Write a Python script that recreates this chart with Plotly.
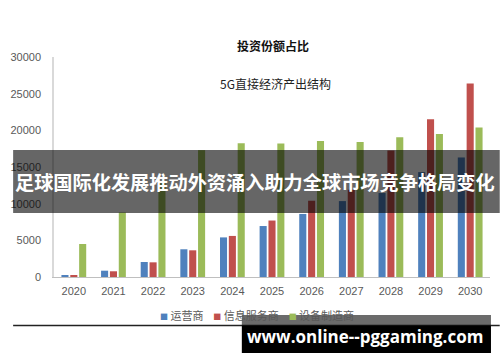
import plotly.graph_objects as go

years = ["2020", "2021", "2022", "2023", "2024", "2025", "2026", "2027", "2028", "2029", "2030"]
operators = [230, 860, 2050, 3780, 5400, 6950, 8600, 10350, 11450, 14300, 16300]
info_services = [180, 780, 2000, 3640, 5600, 7700, 10400, 11900, 17250, 21500, 26400]
equipment = [4500, 8800, 12800, 17300, 18250, 18200, 18550, 18400, 19050, 19500, 20400]
series_names = ["运营商", "信息服务商", "设备制造商"]
colors = ["#4F81BD", "#C0504D", "#9BBB59"]
y_ticks = [0, 5000, 10000, 15000, 20000, 25000, 30000]

W, H = 500, 362
L, R, T, B = 42, 490, 57, 277  # plot area in pixels


def px(x):
    return (x - L) / (R - L)


def py(y):
    return (B - y) / (B - T)


fig = go.Figure()
for name, vals, col in zip(series_names, [operators, info_services, equipment], colors):
    fig.add_trace(go.Bar(x=years, y=vals, name=name, marker=dict(color=col, line=dict(width=0)),
                         showlegend=False))

fig.update_layout(
    width=W, height=H,
    margin=dict(l=L, r=W - R, t=T, b=H - B),
    paper_bgcolor="white", plot_bgcolor="white",
    barmode="group", bargap=0.33, bargroupgap=0.2,
    font=dict(family="Liberation Sans, Arial", size=11, color="#595959"),
    xaxis=dict(type="category", showgrid=False, showline=True, linecolor="#BFBFBF", linewidth=1,
               ticks="", ticklabelstandoff=4, tickfont=dict(size=11, color="#595959")),
    yaxis=dict(range=[0, 30000], tickvals=y_ticks, tickformat="d", showgrid=False, showline=True,
               linecolor="#D9D9D9", linewidth=1.5, zeroline=False, ticks="",
               ticklabelstandoff=9, tickfont=dict(size=11, color="#595959")),
)

shapes = [
    # banner band
    dict(type="rect", xref="paper", yref="paper", x0=px(0), x1=px(W), y0=py(213), y1=py(150),
         fillcolor="rgba(0,0,0,0.6)", line=dict(width=0), layer="above"),
    # bottom border line of the original image
    dict(type="line", xref="paper", yref="paper", x0=px(0), x1=px(W), y0=py(325.5), y1=py(325.5),
         line=dict(color="#222222", width=1.5), layer="above"),
    # watermark box (translucent part over legend)
    dict(type="rect", xref="paper", yref="paper", x0=px(235), x1=px(491), y0=py(326), y1=py(315),
         fillcolor="rgba(0,0,0,0.58)", line=dict(width=0), layer="above"),
    # watermark box (solid part)
    dict(type="rect", xref="paper", yref="paper", x0=px(235), x1=px(491), y0=py(353), y1=py(326),
         fillcolor="#000000", line=dict(width=0), layer="above"),
]
fig.update_layout(shapes=shapes)

legend_text = ("<span style='color:#4F81BD;font-size:8px'>■</span> 运营商"
               "&nbsp;&nbsp;&nbsp;&nbsp;<span style='color:#C0504D;font-size:8px'>■</span> 信息服务商"
               "&nbsp;&nbsp;&nbsp;&nbsp;<span style='color:#9BBB59;font-size:8px'>■</span> 设备制造商")


def ann(text, x, y, font):
    return dict(text=text, x=px(x), y=py(y), xref="paper", yref="paper", showarrow=False,
                xanchor="center", yanchor="middle", font=font)


annotations = [
    ann("<b>投资份额占比</b>", 267, 46, dict(family="Noto Sans CJK SC", size=12, color="#111111")),
    ann("5G直接经济产出结构", 270, 83, dict(family="Noto Sans CJK SC", size=12, color="#222222")),
    ann(legend_text, 251, 315, dict(family="Noto Sans CJK SC", size=11, color="#595959")),
    ann("<b>足球国际化发展推动外资涌入助力全球市场竞争格局变化</b>", 249, 182,
        dict(family="Noto Sans CJK SC", size=19.2, color="white")),
    ann("<b>www.online--pggaming.com</b>", 362, 336, dict(family="Open Sans", size=17, color="white")),
]
fig.update_layout(annotations=annotations)

fig.write_html("out.html", config={"displayModeBar": False},
               post_script="document.body.style.margin='0';document.body.style.padding='0';")
